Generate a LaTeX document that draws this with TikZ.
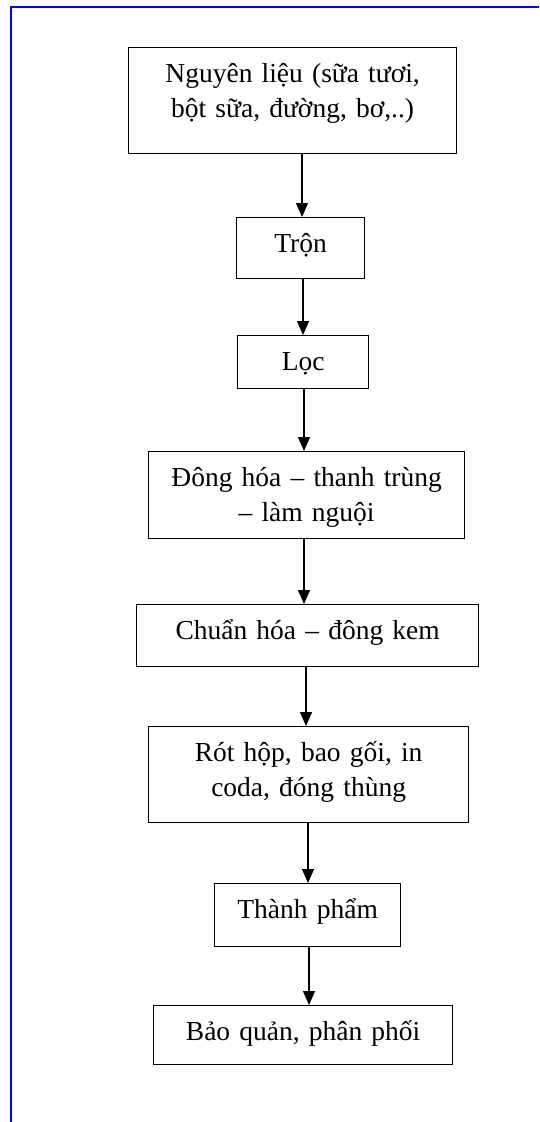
\documentclass[tikz,border=0pt]{standalone}
\usepackage{fontspec}
\setmainfont{Liberation Serif}
\usetikzlibrary{arrows.meta}

\tikzset{
  stage/.style={draw=black, line width=1.3pt, anchor=north west,
    inner xsep=0pt, inner ysep=0pt, align=center,
    font=\fontsize{27.5}{35}\selectfont, text height=35pt},
  flow/.style={line width=1.3pt, -{Triangle[width=12pt,length=14pt]}},
  frame/.style={draw=blue, line width=2pt}
}

\begin{document}
\begin{tikzpicture}[x=1pt, y=-1pt]
  \useasboundingbox (0,0) rectangle (539,1122);
  \fill[white] (0,0) rectangle (539,1122);

  % page frame (top and left edges)
  \draw[frame] (10.5,1122) -- (10.5,7) -- (539,7);

  % process stages
  \node[stage, text width=328pt, text depth=71pt] (nl) at (128,47)
    {Nguyên liệu (sữa tươi,\\bột sữa, đường, bơ,..)};
  \node[stage, text width=128pt, text depth=26pt] (tron) at (236,217)
    {Trộn};
  \node[stage, text width=131pt, text depth=18pt] (loc) at (237,335)
    {Lọc};
  \node[stage, text width=316pt, text depth=52pt] (dh) at (148,451)
    {Đông hóa – thanh trùng\\– làm nguội};
  \node[stage, text width=342pt, text depth=27pt] (ch) at (136,604)
    {Chuẩn hóa – đông kem};
  \node[stage, text width=320pt, text depth=61pt] (rh) at (148,726)
    {Rót hộp, bao gối, in\\coda, đóng thùng};
  \node[stage, text width=186pt, text depth=28pt] (tp) at (214,883)
    {Thành phẩm};
  \node[stage, text width=299pt, text depth=24pt] (bq) at (153,1005)
    {Bảo quản, phân phối};

  % flow arrows
  \draw[flow] (nl.south -| 302,0) -- (tron.north -| 302,0);
  \draw[flow] (tron.south -| 303,0) -- (loc.north -| 303,0);
  \draw[flow] (loc.south -| 304,0) -- (dh.north -| 304,0);
  \draw[flow] (dh.south -| 304,0) -- (ch.north -| 304,0);
  \draw[flow] (ch.south -| 306,0) -- (rh.north -| 306,0);
  \draw[flow] (rh.south -| 308,0) -- (tp.north -| 308,0);
  \draw[flow] (tp.south -| 309,0) -- (bq.north -| 309,0);
\end{tikzpicture}
\end{document}
